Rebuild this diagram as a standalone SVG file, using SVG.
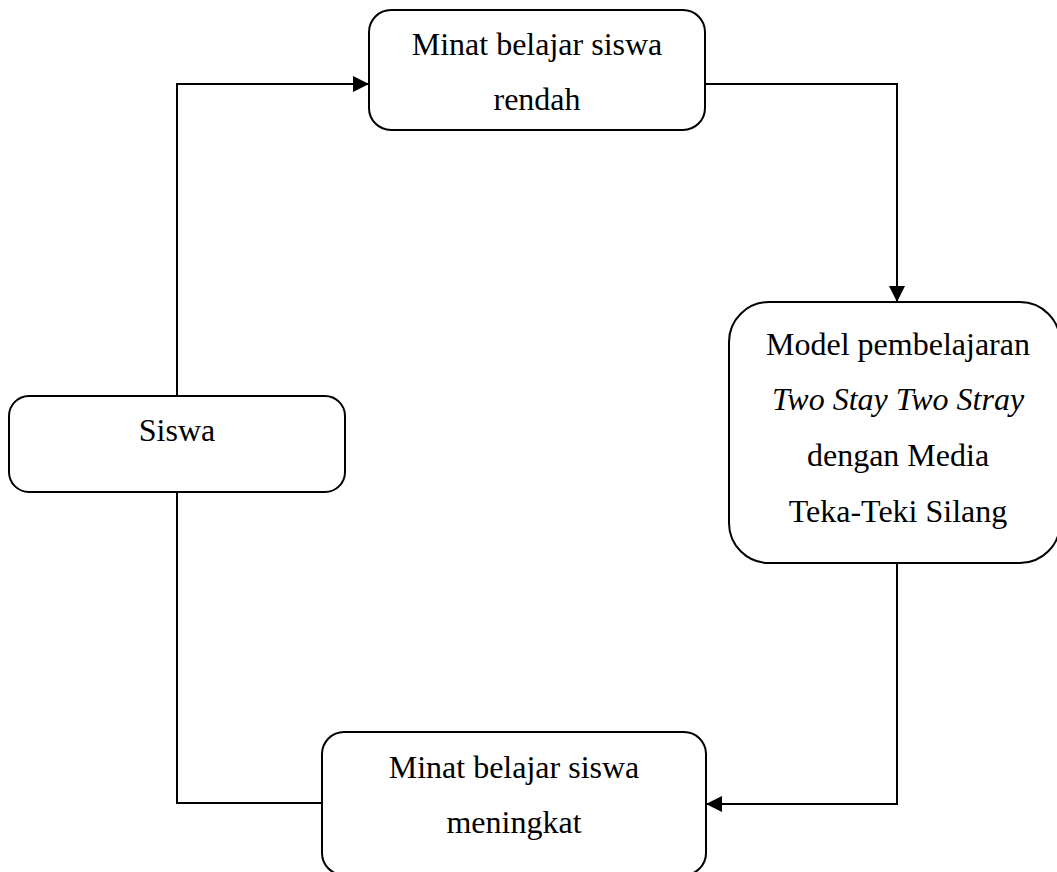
<svg xmlns="http://www.w3.org/2000/svg" width="1057" height="872" viewBox="0 0 1057 872">
  <style>
    .box { fill: #ffffff; stroke: #000000; stroke-width: 2; }
    .lbl { font-family: "Liberation Serif", "Times New Roman", serif; font-size: 32px; fill: #000000; text-anchor: middle; }
    .it { font-style: italic; }
    .conn { fill: none; stroke: #000000; stroke-width: 2; }
  </style>
  <defs>
    <marker id="arrow" markerUnits="userSpaceOnUse" markerWidth="16" markerHeight="16" viewBox="0 0 16 16" refX="16" refY="8" orient="auto">
      <path d="M0,0 L16,8 L0,16 Z" fill="#000000"/>
    </marker>
  </defs>
  <rect width="1057" height="872" fill="#ffffff"/>
  <g id="connectors">
    <polyline class="conn" points="177,396 177,84 369,84" marker-end="url(#arrow)"/>
    <polyline class="conn" points="705,84 897,84 897,302" marker-end="url(#arrow)"/>
    <polyline class="conn" points="897,563 897,804 706,804" marker-end="url(#arrow)"/>
    <polyline class="conn" points="177,492 177,803 322,803"/>
  </g>
  <g id="node-rendah">
    <rect class="box" x="369" y="10" width="336" height="120" rx="22" ry="22"/>
    <text class="lbl" x="537" y="55">Minat belajar siswa</text>
    <text class="lbl" x="537" y="110">rendah</text>
  </g>
  <g id="node-model">
    <rect class="box" x="729" y="302" width="331" height="261" rx="40" ry="40"/>
    <text class="lbl" x="898" y="355">Model pembelajaran</text>
    <text class="lbl it" x="898" y="410">Two Stay Two Stray</text>
    <text class="lbl" x="898" y="466">dengan Media</text>
    <text class="lbl" x="898" y="522">Teka-Teki Silang</text>
  </g>
  <g id="node-siswa">
    <rect class="box" x="9" y="396" width="336" height="96" rx="20" ry="20"/>
    <text class="lbl" x="177" y="441">Siswa</text>
  </g>
  <g id="node-meningkat">
    <rect class="box" x="322" y="732" width="384" height="143" rx="22" ry="22"/>
    <text class="lbl" x="514" y="778">Minat belajar siswa</text>
    <text class="lbl" x="514" y="833">meningkat</text>
  </g>
</svg>
